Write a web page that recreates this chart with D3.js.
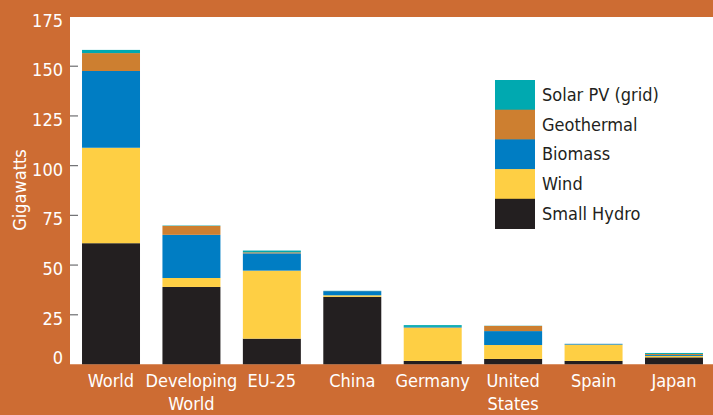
<!DOCTYPE html>
<html>
<head>
<meta charset="utf-8">
<script src="https://cdn.jsdelivr.net/npm/d3@7"></script>
<style>
  html, body { margin: 0; padding: 0; background: #cd6c33; }
  svg { display: block; }
  text { font-family: "Liberation Sans Narrow", "DejaVu Sans Condensed", "Roboto", sans-serif; }
</style>
</head>
<body>
<svg id="chart" width="713" height="415"></svg>
<script>
const categories = ["World", "Developing World", "EU-25", "China", "Germany", "United States", "Spain", "Japan"];
const categoryLines = [["World"], ["Developing", "World"], ["EU-25"], ["China"], ["Germany"], ["United", "States"], ["Spain"], ["Japan"]];
const seriesNames = ["Small Hydro", "Wind", "Biomass", "Geothermal", "Solar PV (grid)"];
const smallHydro = [61, 39, 13, 34, 1.8, 2.8, 1.8, 3.6];
const wind       = [48, 4.5, 34.2, 0.8, 16.8, 7, 8.2, 0.7];
const biomass    = [38.6, 21.7, 8.7, 2.1, 0.3, 7, 0.4, 0.5];
const geothermal = [9, 4.5, 0.5, 0.05, 0, 2.6, 0, 0.5];
const solarPV    = [1.6, 0.2, 0.9, 0.1, 0.9, 0.1, 0, 0.5];
const yTicks = [0, 25, 50, 75, 100, 125, 150, 175];
const colors = ["#231f20", "#fecf44", "#007dc3", "#cd7f30", "#00a9b0"];

const seriesValues = [smallHydro, wind, biomass, geothermal, solarPV];
const rows = categories.map((c, i) => {
  const r = { category: c };
  seriesNames.forEach((s, j) => r[s] = seriesValues[j][i]);
  return r;
});

const svg = d3.select("#chart");
const plot = { left: 70, top: 17, right: 713, bottom: 364.5 };

svg.append("rect")
  .attr("x", plot.left).attr("y", plot.top)
  .attr("width", plot.right - plot.left).attr("height", plot.bottom - plot.top)
  .attr("fill", "#ffffff");

const x = d3.scaleBand()
  .domain(categories)
  .range([70.8, 714.2])
  .paddingInner(0.279)
  .paddingOuter(0.1395);

const y = d3.scaleLinear()
  .domain([0, 175])
  .range([plot.bottom, 16.5]);

const stack = d3.stack().keys(seriesNames);
const layers = stack(rows);

svg.append("g").selectAll("g")
  .data(layers)
  .join("g")
  .attr("fill", (d, i) => colors[i])
  .selectAll("rect")
  .data(d => d)
  .join("rect")
  .attr("x", d => x(d.data.category))
  .attr("width", x.bandwidth())
  .attr("y", d => y(d[1]))
  .attr("height", d => Math.max(0, y(d[0]) - y(d[1])));

// bottom orange band covering below baseline
svg.append("rect")
  .attr("x", 0).attr("y", plot.bottom)
  .attr("width", 713).attr("height", 415 - plot.bottom)
  .attr("fill", "#cd6c33");

// y ticks (inside plot) and labels
const yAxis = svg.append("g");
yAxis.selectAll("line")
  .data(yTicks.filter(t => t > 0 && t < 175))
  .join("line")
  .attr("x1", plot.left).attr("x2", plot.left + 8)
  .attr("y1", d => y(d)).attr("y2", d => y(d))
  .attr("stroke", "#6d6e71").attr("stroke-width", 1.2);

yAxis.selectAll("text")
  .data(yTicks)
  .join("text")
  .attr("x", 63)
  .attr("y", d => d === 0 ? y(d) - 1 : y(d) + 10)
  .attr("text-anchor", "end")
  .attr("fill", "#ffffff")
  .attr("font-size", 18)
  .text(d => d);

svg.append("text")
  .attr("transform", "translate(26,190) rotate(-90)")
  .attr("text-anchor", "middle")
  .attr("fill", "#ffffff")
  .attr("font-size", 18)
  .text("Gigawatts");

// x labels
const xl = svg.append("g");
categories.forEach((c, i) => {
  const t = xl.append("text")
    .attr("x", x(c) + x.bandwidth() / 2)
    .attr("y", 387)
    .attr("text-anchor", "middle")
    .attr("fill", "#ffffff")
    .attr("font-size", 18);
  categoryLines[i].forEach((line, k) => {
    t.append("tspan")
      .attr("x", x(c) + x.bandwidth() / 2)
      .attr("dy", k === 0 ? 0 : 23)
      .text(line);
  });
});

// legend
const legendOrder = seriesNames.slice().reverse();
const legendColors = colors.slice().reverse();
const lg = svg.append("g").attr("transform", "translate(495,80)");
const lh = 29.7;
legendOrder.forEach((s, i) => {
  lg.append("rect")
    .attr("x", 0).attr("y", i * lh)
    .attr("width", 40).attr("height", lh + 0.5)
    .attr("fill", legendColors[i]);
  lg.append("text")
    .attr("x", 47).attr("y", i * lh + lh / 2 + 6)
    .attr("fill", "#231f20")
    .attr("font-size", 18)
    .text(s);
});
</script>
</body>
</html>
